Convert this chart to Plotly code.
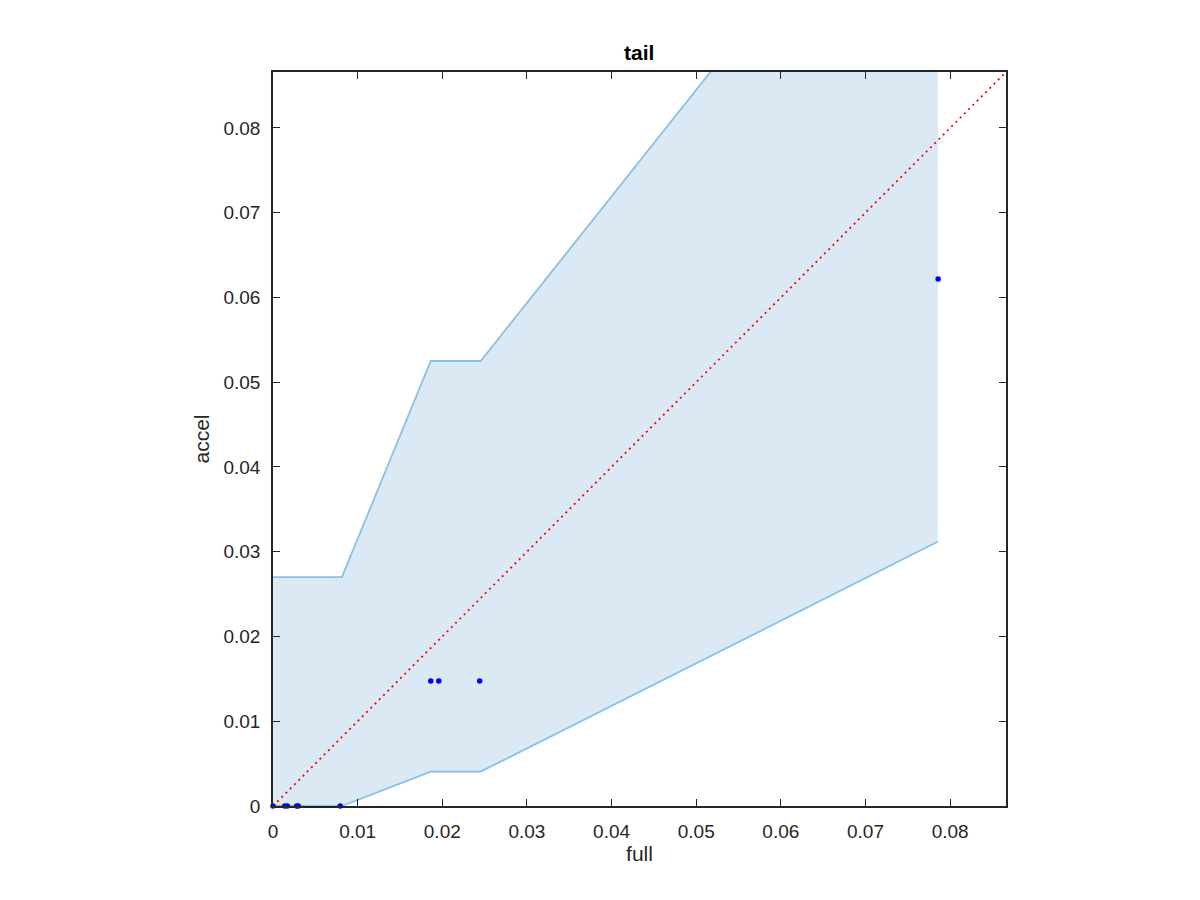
import plotly.graph_objects as go

# Data
points_x = [0.0, 0.00138, 0.00169, 0.00280, 0.00298, 0.00794, 0.01864, 0.01959, 0.02442, 0.07858]
points_y = [0.0, 0.0, 0.0, 0.0, 0.0, 0.0, 0.01475, 0.01475, 0.01475, 0.06218]

band_x = [0.0, 0.00814, 0.01864, 0.02454, 0.07858]
band_upper = [0.0270, 0.0270, 0.0525, 0.0525, 0.1204]
band_lower = [0.0, 0.0, 0.00405, 0.00405, 0.0312]

axis_max = 0.0866
diag = [0.0, axis_max]
tick_vals = [0, 0.01, 0.02, 0.03, 0.04, 0.05, 0.06, 0.07, 0.08]
tick_text = ["0", "0.01", "0.02", "0.03", "0.04", "0.05", "0.06", "0.07", "0.08"]

fill_col = "rgb(218,233,244)"
edge_col = "rgb(140,192,228)"
font_fam = "Liberation Sans, Arial, sans-serif"

fig = go.Figure()
fig.add_trace(go.Scatter(
    x=band_x + band_x[::-1], y=band_upper + band_lower[::-1],
    fill="toself", fillcolor=fill_col, line=dict(width=0), mode="lines",
    hoverinfo="skip", showlegend=False))
fig.add_trace(go.Scatter(x=band_x, y=band_upper, mode="lines",
                         line=dict(color=edge_col, width=1.8), showlegend=False))
fig.add_trace(go.Scatter(x=band_x, y=band_lower, mode="lines",
                         line=dict(color=edge_col, width=1.8), showlegend=False))
fig.add_trace(go.Scatter(x=diag, y=diag, mode="lines",
                         line=dict(color="red", width=1.8, dash="2px,4px"), showlegend=False))
fig.add_trace(go.Scatter(x=points_x, y=points_y, mode="markers",
                         marker=dict(color="blue", size=5.5), showlegend=False,
                         cliponaxis=False))

axis_common = dict(
    range=[0, axis_max], tickvals=tick_vals, ticktext=tick_text,
    ticks="inside", ticklen=7, tickwidth=1.2, tickcolor="#262626",
    showline=True, linecolor="#262626", linewidth=1.5, mirror="ticks",
    showgrid=False, zeroline=False, ticklabelstandoff=7,
    tickfont=dict(family=font_fam, size=19, color="#262626"),
)

fig.update_layout(
    width=1200, height=900,
    margin=dict(l=265, r=202, t=64, b=102),
    plot_bgcolor="white", paper_bgcolor="white",
    title=dict(text="<b>tail</b>", x=0.526, xanchor="center", y=0.95, yanchor="middle",
               font=dict(family=font_fam, size=21, color="black")),
    xaxis=dict(**axis_common,
               title=dict(text="full", standoff=1,
                          font=dict(family=font_fam, size=21, color="#262626"))),
    yaxis=dict(**axis_common,
               title=dict(text="accel", standoff=8,
                          font=dict(family=font_fam, size=21, color="#262626"))),
)

fig.write_html("out.html")
